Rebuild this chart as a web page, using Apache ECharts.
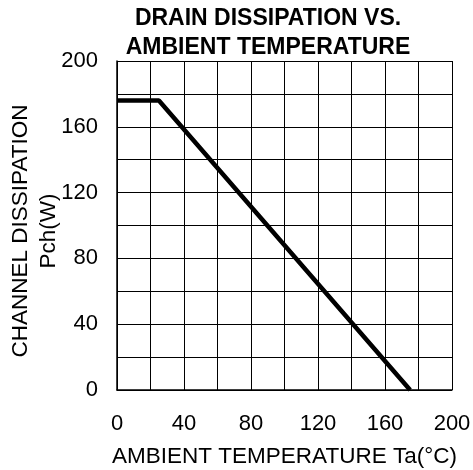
<!DOCTYPE html>
<html>
<head>
<meta charset="utf-8">
<script src="https://cdn.jsdelivr.net/npm/echarts@6/dist/echarts.min.js"></script>
<style>
  html, body { margin: 0; padding: 0; background: #fff; }
  #chart { width: 473px; height: 470px; }
</style>
</head>
<body>
<div id="chart"></div>
<script>
// derating curve: ambient temperature (°C) vs channel dissipation (W)
const tempC = [0, 25, 175];
const pchW = [176, 176, 0];

const chart = echarts.init(document.getElementById('chart'));
const font = 'Liberation Sans, Arial, sans-serif';

const option = {
    animation: false,
    title: {
        text: 'DRAIN DISSIPATION VS.\nAMBIENT TEMPERATURE',
        left: 263,
        top: -1,
        textAlign: 'center',
        textStyle: {
            fontFamily: font,
            fontSize: 23,
            fontWeight: 'bold',
            color: '#000',
            lineHeight: 29,
        },
    },
    grid: { left: 117, top: 61, width: 335, height: 329, outerBoundsMode: 'none', containLabel: false },
    xAxis: {
        type: 'value',
        min: 0,
        max: 200,
        interval: 40,
        name: 'AMBIENT TEMPERATURE Ta(°C)',
        nameLocation: 'middle',
        nameGap: 55,
        nameMoveOverlap: false,
        nameTextStyle: { fontFamily: font, fontSize: 22.5, color: '#000' },
        axisLine: { show: true, lineStyle: { color: '#000', width: 1.5 } },
        axisTick: { show: false },
        axisLabel: { margin: 23, fontFamily: font, fontSize: 22, color: '#000' },
        splitLine: { show: true, lineStyle: { color: '#000', width: 1 } },
        minorTick: { show: false, splitNumber: 2 },
        minorSplitLine: { show: true, lineStyle: { color: '#000', width: 1 } },
    },
    yAxis: {
        type: 'value',
        min: 0,
        max: 200,
        interval: 40,
        name: 'CHANNEL DISSIPATION\nPch(W)',
        nameLocation: 'middle',
        nameRotate: 90,
        nameGap: 54,
        nameMoveOverlap: false,
        nameTextStyle: {
            fontFamily: font,
            fontSize: 22.5,
            color: '#000',
            lineHeight: 28,
            padding: [0, 11, 0, 0],
        },
        axisLine: { show: true, lineStyle: { color: '#000', width: 1.5 } },
        axisTick: { show: false },
        axisLabel: { margin: 19, fontFamily: font, fontSize: 22, color: '#000' },
        splitLine: { show: true, lineStyle: { color: '#000', width: 1 } },
        minorTick: { show: false, splitNumber: 2 },
        minorSplitLine: { show: true, lineStyle: { color: '#000', width: 1 } },
    },
    series: [{
        type: 'line',
        data: tempC.map((t, i) => [t, pchW[i]]),
        showSymbol: false,
        lineStyle: { color: '#000', width: 4.5 },
    }],
};

chart.setOption(option);
</script>
</body>
</html>
